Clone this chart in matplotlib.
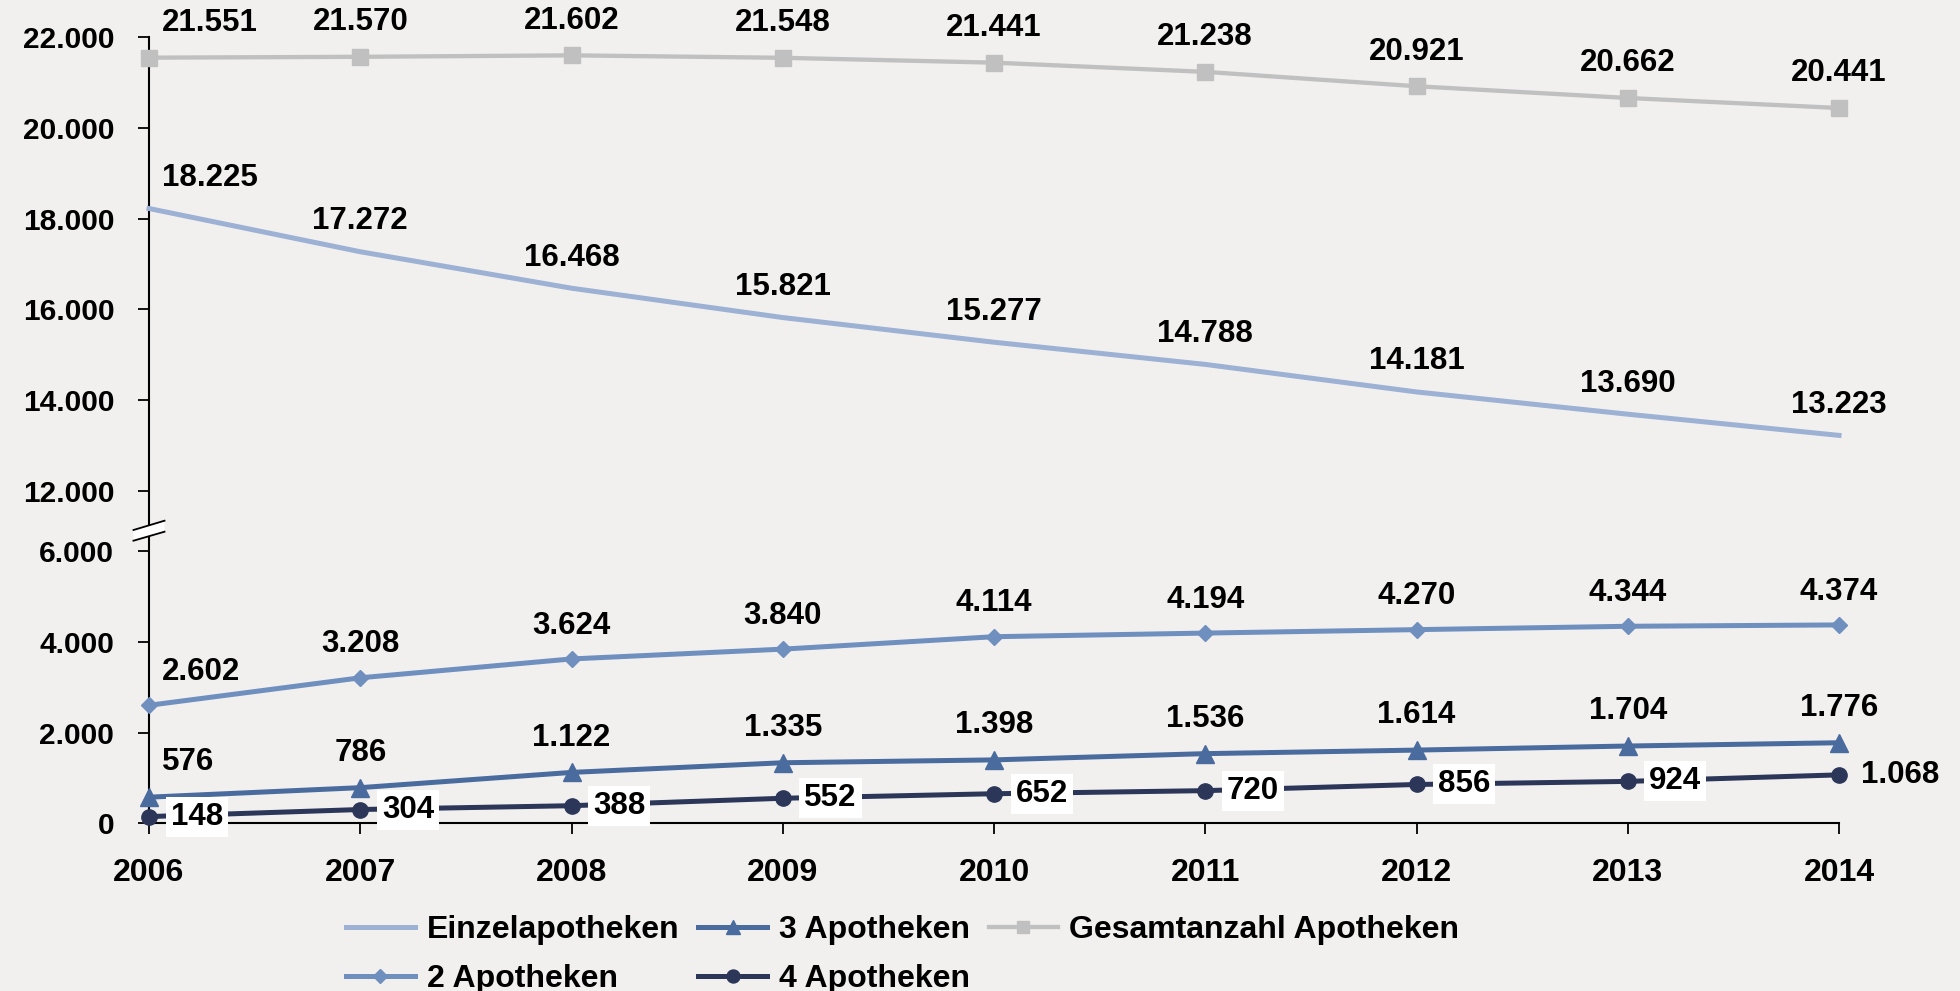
import numpy as np
import matplotlib.pyplot as plt
from matplotlib.patches import Polygon
from matplotlib.lines import Line2D
from matplotlib.ticker import FuncFormatter

plt.rcParams['font.family'] = ['Liberation Sans', 'DejaVu Sans']
plt.rcParams['font.weight'] = 'bold'

# Apotheken in Deutschland 2006-2014
years = [2006, 2007, 2008, 2009, 2010, 2011, 2012, 2013, 2014]
einzel = [18225, 17272, 16468, 15821, 15277, 14788, 14181, 13690, 13223]
zwei = [2602, 3208, 3624, 3840, 4114, 4194, 4270, 4344, 4374]
drei = [576, 786, 1122, 1335, 1398, 1536, 1614, 1704, 1776]
vier = [148, 304, 388, 552, 652, 720, 856, 924, 1068]
gesamt = [21551, 21570, 21602, 21548, 21441, 21238, 20921, 20662, 20441]

yticks = [0, 2000, 4000, 6000, 12000, 14000, 16000, 18000, 20000, 22000]

bg = '#f1f0ee'
c_einzel = '#9cb1d3'
c_zwei = '#6f8fbf'
c_drei = '#4a6b9d'
c_vier = '#2b3659'
c_gesamt = '#c0c0c0'

# broken axis: 6000..12000 squeezed into a short gap
GAP = 1330.0


def fwd(v):
    v = np.asarray(v, dtype=float)
    return np.where(v <= 6000, v,
                    np.where(v >= 12000, v - 12000 + 6000 + GAP,
                             6000 + (v - 6000) * GAP / 6000))


def inv(t):
    t = np.asarray(t, dtype=float)
    return np.where(t <= 6000, t,
                    np.where(t >= 6000 + GAP, t - 6000 - GAP + 12000,
                             6000 + (t - 6000) * 6000 / GAP))


def de(v):
    return f'{int(v):,}'.replace(',', '.')


fig = plt.figure(figsize=(19.6, 9.91), dpi=100, facecolor=bg)
ax = fig.add_axes([149 / 1960, 1 - 823.3 / 991, 1690 / 1960, 786 / 991])
ax.set_facecolor(bg)
ax.set_yscale('function', functions=(fwd, inv))
ax.set_xlim(2006, 2014)
ax.set_ylim(0, 22000)

ax.plot(years, einzel, color=c_einzel, lw=3.6, label='Einzelapotheken', clip_on=False, zorder=3)
ax.plot(years, zwei, color=c_zwei, lw=3.6, marker='D', ms=8.5, label='2 Apotheken', clip_on=False, zorder=3)
ax.plot(years, drei, color=c_drei, lw=3.6, marker='^', ms=12.5, label='3 Apotheken', clip_on=False, zorder=3)
ax.plot(years, vier, color=c_vier, lw=3.6, marker='o', ms=11, label='4 Apotheken', clip_on=False, zorder=3)
ax.plot(years, gesamt, color=c_gesamt, lw=3.1, marker='s', ms=11, label='Gesamtanzahl Apotheken', clip_on=False, zorder=3)

fs = 22.5

# value labels above the points (first year shifted right of the axis)
for series, dy in [(gesamt, 25), (einzel, 22), (zwei, 24), (drei, 25)]:
    for i, (x, y) in enumerate(zip(years, series)):
        if i == 0:
            ax.annotate(de(y), (x, y), xytext=(9, dy), textcoords='offset points',
                        ha='left', va='center', fontsize=fs, fontweight='bold', zorder=5)
        else:
            ax.annotate(de(y), (x, y), xytext=(0, dy), textcoords='offset points',
                        ha='center', va='center', fontsize=fs, fontweight='bold', zorder=5)

# 4 Apotheken: labels right of the points on white boxes
for i, (x, y) in enumerate(zip(years, vier)):
    box = None if i == len(years) - 1 else dict(boxstyle='square,pad=0.16', fc='white', ec='none')
    ax.annotate(de(y), (x, y), xytext=(15.5, 0), textcoords='offset points',
                ha='left', va='center', fontsize=fs, fontweight='bold',
                bbox=box, zorder=6, annotation_clip=False)

ax.set_yticks(yticks)
ax.yaxis.set_major_formatter(FuncFormatter(lambda v, p: de(round(v))))
ax.set_xticks(years)
ax.set_xticklabels([str(y) for y in years])
ax.tick_params(axis='y', direction='out', length=8, width=1.3, pad=17, labelsize=21.5)
ax.tick_params(axis='x', direction='out', length=8, width=1.3, pad=17, labelsize=23)
for lab in ax.get_xticklabels() + ax.get_yticklabels():
    lab.set_fontweight('bold')

for s in ['top', 'right']:
    ax.spines[s].set_visible(False)
for s in ['left', 'bottom']:
    ax.spines[s].set_linewidth(1.5)
    ax.spines[s].set_zorder(2)

# break marker on the y axis
W, H = 1690.0, 786.0
cy = (823.3 - 530.8) / H
pts = [(-15.5, 0.8), (15.5, 10.1), (15.5, -0.9), (-15.5, -9.9)]
poly = [(dx / W, cy + dy / H) for dx, dy in pts]
ax.add_patch(Polygon(poly, closed=True, fc='white', ec='none', transform=ax.transAxes,
                     clip_on=False, zorder=7))
for a, b in [(pts[0], pts[1]), (pts[3], pts[2])]:
    ax.add_line(Line2D([a[0] / W, b[0] / W], [cy + a[1] / H, cy + b[1] / H], color='black',
                       lw=1.3, transform=ax.transAxes, clip_on=False, zorder=8))

handles, labels = ax.get_legend_handles_labels()
leg = fig.legend(handles, labels, loc='upper left', bbox_to_anchor=(346 / 1960, 1 - 915 / 991),
                 ncol=3, frameon=False, handlelength=2.15, handletextpad=0.37,
                 columnspacing=0.6, labelspacing=0.6, borderpad=0, borderaxespad=0,
                 markerscale=0.85, prop={'weight': 'bold', 'size': 23})

fig.savefig('out.png', dpi=100, facecolor=bg)
